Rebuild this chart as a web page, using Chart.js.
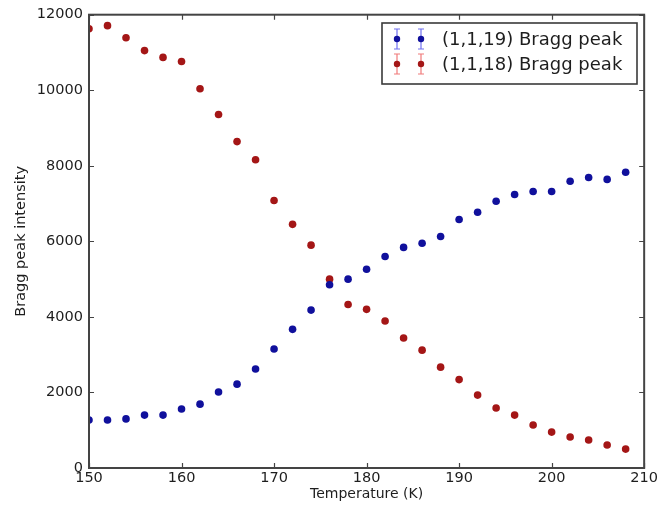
<!DOCTYPE html>
<html>
<head>
<meta charset="utf-8">
<script src="https://cdn.jsdelivr.net/npm/chart.js@4.4.1/dist/chart.umd.min.js"></script>
<style>
  html, body { margin: 0; padding: 0; background: #fff; }
  #wrap { width: 660px; height: 509px; }
</style>
</head>
<body>
<div id="wrap"><canvas id="chart" width="660" height="509"></canvas></div>
<script>
// temperatures (K)
var temps = [150, 152, 154, 156, 158, 160, 162, 164, 166, 168, 170, 172, 174, 176, 178,
             180, 182, 184, 186, 188, 190, 192, 194, 196, 198, 200, 202, 204, 206, 208];

// (1,1,19) Bragg peak intensity
var peak19 = [1270, 1270, 1300, 1400, 1400, 1560, 1690, 2010, 2220, 2620, 3150, 3670, 4180, 4850, 5000,
              5260, 5600, 5840, 5950, 6130, 6580, 6770, 7060, 7240, 7320, 7320, 7590, 7690, 7640, 7830];

// (1,1,18) Bragg peak intensity
var peak18 = [11630, 11710, 11390, 11050, 10870, 10760, 10040, 9360, 8640, 8160, 7080, 6450, 5900, 5000, 4330,
              4200, 3890, 3440, 3120, 2670, 2340, 1930, 1590, 1400, 1140, 950, 820, 740, 610, 500];

var xTicks = [150, 160, 170, 180, 190, 200, 210];
var yTicks = [0, 2000, 4000, 6000, 8000, 10000, 12000];

var labels = ['(1,1,19) Bragg peak', '(1,1,18) Bragg peak'];
var dotColors = ['#10109c', '#a41616'];
var barColors = ['#7070f0', '#f07a7a'];

function toPoints(vals) {
  return temps.map(function (t, i) { return { x: t, y: vals[i] }; });
}

var frameColor = '#444';
var textColor = '#1e1e1e';
var fontFamily = '"DejaVu Sans", Verdana, sans-serif';

// matplotlib-like frame, inward ticks on all sides, and boxed legend
var framePlugin = {
  id: 'framePlugin',
  afterDatasetsDraw: function (chart) {
    var ctx = chart.ctx;
    var a = chart.chartArea;
    var xs = chart.scales.x, ys = chart.scales.y;
    ctx.save();
    ctx.strokeStyle = frameColor;
    ctx.lineWidth = 1.2;
    var tl = 5;
    xTicks.forEach(function (v) {
      var px = Math.round(xs.getPixelForValue(v)) + 0.5;
      ctx.beginPath();
      ctx.moveTo(px, a.bottom); ctx.lineTo(px, a.bottom - tl);
      ctx.moveTo(px, a.top); ctx.lineTo(px, a.top + tl);
      ctx.stroke();
    });
    yTicks.forEach(function (v) {
      var py = Math.round(ys.getPixelForValue(v)) + 0.5;
      ctx.beginPath();
      ctx.moveTo(a.left, py); ctx.lineTo(a.left + tl, py);
      ctx.moveTo(a.right, py); ctx.lineTo(a.right - tl, py);
      ctx.stroke();
    });
    ctx.lineWidth = 2;
    ctx.strokeRect(a.left, a.top, a.right - a.left, a.bottom - a.top);

    // legend
    var lx = 382, ly = 23, lw = 255, lh = 61;
    ctx.fillStyle = '#fff';
    ctx.fillRect(lx, ly, lw, lh);
    ctx.lineWidth = 1.6;
    ctx.strokeStyle = '#3a3a3a';
    ctx.strokeRect(lx, ly, lw, lh);
    var rows = [39, 64];
    chart.data.datasets.forEach(function (ds, i) {
      var cy = rows[i];
      [397, 421].forEach(function (mx) {
        ctx.strokeStyle = barColors[i];
        ctx.lineWidth = 1.2;
        ctx.beginPath();
        ctx.moveTo(mx, cy - 10); ctx.lineTo(mx, cy + 10);
        ctx.moveTo(mx - 3, cy - 10); ctx.lineTo(mx + 3, cy - 10);
        ctx.moveTo(mx - 3, cy + 10); ctx.lineTo(mx + 3, cy + 10);
        ctx.stroke();
        ctx.fillStyle = dotColors[i];
        ctx.beginPath();
        ctx.arc(mx, cy, 3.2, 0, Math.PI * 2);
        ctx.fill();
      });
      ctx.fillStyle = textColor;
      ctx.font = '18px ' + fontFamily;
      ctx.textBaseline = 'middle';
      ctx.textAlign = 'left';
      ctx.fillText(ds.label, 442, cy + 1);
    });
    ctx.restore();
  }
};

var ctx = document.getElementById('chart').getContext('2d');
new Chart(ctx, {
  type: 'scatter',
  data: {
    datasets: [
      {
        label: labels[0],
        data: toPoints(peak19),
        backgroundColor: dotColors[0],
        borderColor: dotColors[0],
        pointRadius: 3.8,
        pointHoverRadius: 3.8,
        borderWidth: 0,
        clip: 0
      },
      {
        label: labels[1],
        data: toPoints(peak18),
        backgroundColor: dotColors[1],
        borderColor: dotColors[1],
        pointRadius: 3.8,
        pointHoverRadius: 3.8,
        borderWidth: 0,
        clip: 0
      }
    ]
  },
  options: {
    responsive: false,
    animation: false,
    devicePixelRatio: 1,
    layout: { padding: { left: 0, right: 14, top: 14, bottom: 0 } },
    plugins: {
      legend: { display: false },
      tooltip: { enabled: false }
    },
    scales: {
      x: {
        type: 'linear',
        min: 150,
        max: 210,
        afterBuildTicks: function (s) { s.ticks = xTicks.map(function (v) { return { value: v }; }); },
        afterFit: function (s) { s.height = 41; },
        grid: { display: false, drawTicks: false },
        border: { display: false },
        ticks: { color: textColor, font: { family: fontFamily, size: 14.5 }, padding: 2, maxRotation: 0 },
        title: {
          display: true,
          text: 'Temperature (K)',
          color: textColor,
          font: { family: fontFamily, size: 14 },
          padding: { top: 0, bottom: 6 }
        }
      },
      y: {
        type: 'linear',
        min: 0,
        max: 12000,
        afterBuildTicks: function (s) { s.ticks = yTicks.map(function (v) { return { value: v }; }); },
        afterFit: function (s) { s.width = 89; },
        grid: { display: false, drawTicks: false },
        border: { display: false },
        ticks: {
          color: textColor,
          font: { family: fontFamily, size: 14.5 },
          padding: 6,
          callback: function (v) { return String(v); }
        },
        title: {
          display: true,
          text: 'Bragg peak intensity',
          color: textColor,
          font: { family: fontFamily, size: 14.5 },
          padding: { top: 13, bottom: 0 }
        }
      }
    }
  },
  plugins: [framePlugin]
});
</script>
</body>
</html>
